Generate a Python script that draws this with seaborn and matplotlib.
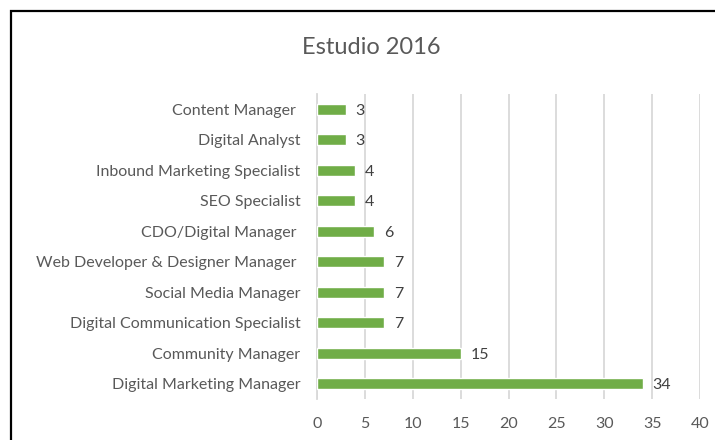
import pandas as pd
import matplotlib.pyplot as plt
import seaborn as sns
from matplotlib.patches import Rectangle

# chart data (top to bottom)
roles = ['Content Manager ', 'Digital Analyst', 'Inbound Marketing Specialist',
         'SEO Specialist', 'CDO/Digital Manager ', 'Web Developer & Designer Manager ',
         'Social Media Manager', 'Digital Communication Specialist',
         'Community Manager', 'Digital Marketing Manager']
counts = [3, 3, 4, 4, 6, 7, 7, 7, 15, 34]
x_ticks = [0, 5, 10, 15, 20, 25, 30, 35, 40]

df = pd.DataFrame({'role': roles, 'count': counts})

sns.set_style('white')
plt.rcParams['font.family'] = ['Lato', 'DejaVu Sans']

fig = plt.figure(figsize=(7.15, 4.4), dpi=100)
ax = fig.add_axes([0.4434, 0.0932, 0.5357, 0.693])

sns.barplot(data=df, x='count', y='role', color='#70AD47', saturation=1,
            width=0.36, ax=ax, zorder=3)

ax.set_xlim(0, 40)
ax.set_xticks(x_ticks)
ax.set_ylim(len(roles) - 0.5, -0.5)
ax.grid(axis='x', color='#D9D9D9', linewidth=1.3, zorder=0)
ax.set_xlabel('')
ax.set_ylabel('')
for s in ['top', 'right', 'bottom']:
    ax.spines[s].set_visible(False)
ax.spines['left'].set_color('#D9D9D9')
ax.spines['left'].set_linewidth(1.3)
ax.tick_params(axis='both', length=0, labelsize=11.5, labelcolor='#595959')
ax.tick_params(axis='y', pad=12)
ax.tick_params(axis='x', pad=13)

for i, v in enumerate(counts):
    ax.text(v + 1.0, i + 0.05, str(v), va='center', ha='left', fontsize=11.5, color='#404040')

fig.text(0.52, 0.893, 'Estudio 2016', ha='center', va='center', fontsize=17, color='#595959')

# chart border (cropped at right and bottom)
fig.patches.append(Rectangle((0.0147, -0.2), 1.5, 1.175, transform=fig.transFigure,
                             fill=False, edgecolor='black', linewidth=1.6))

fig.savefig('out.png', dpi=100, facecolor='white')
